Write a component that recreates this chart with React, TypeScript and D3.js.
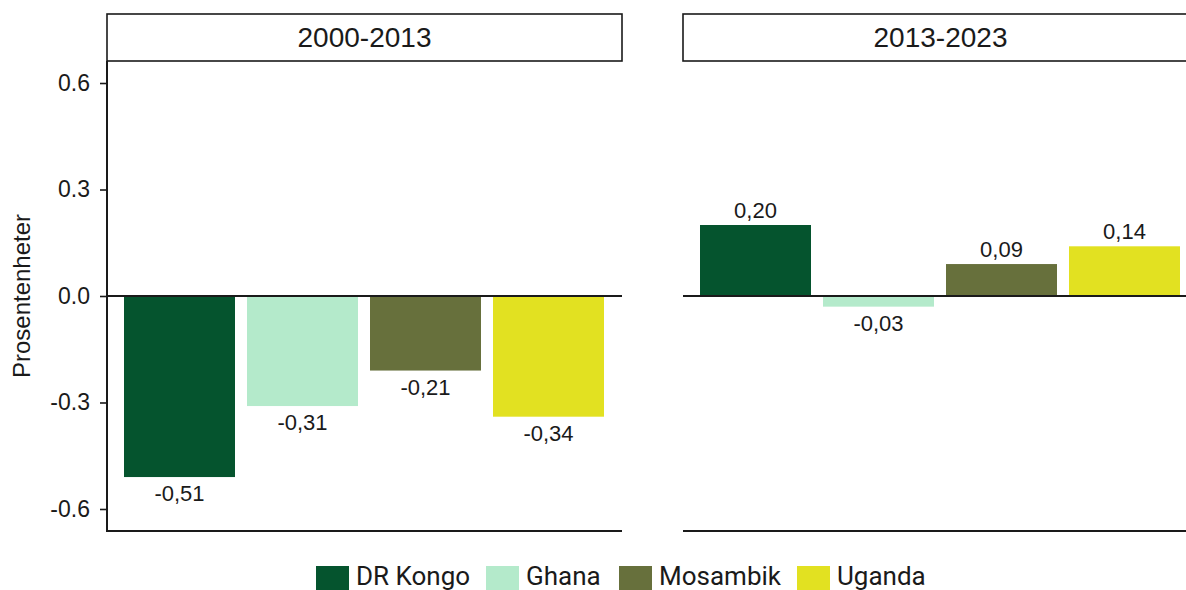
import React, { useRef, useEffect } from 'react';
import * as d3 from 'd3';

// data
const countries = ['DR Kongo', 'Ghana', 'Mosambik', 'Uganda'];
const periods = ['2000-2013', '2013-2023'];
const values2000to2013 = [-0.51, -0.31, -0.21, -0.34];
const values2013to2023 = [0.2, -0.03, 0.09, 0.14];
const yTicks = [-0.6, -0.3, 0, 0.3, 0.6];
const colors = ['#05542e', '#b4eacb', '#67703c', '#e2e121'];

export default function App() {
  const svgRef = useRef<SVGSVGElement>(null);

  useEffect(() => {
    const width = 1186;
    const height = 590;
    const font = '"Liberation Sans", Arial, sans-serif';
    const ink = '#1a1a1a';

    const panelW = 515;
    const panelLefts = [107, 683];
    const stripTop = 14;
    const panelTop = 61;
    const panelBottom = 531;

    const svg = d3.select(svgRef.current);
    svg.selectAll('*').remove();
    svg.attr('width', width).attr('height', height);

    const y = d3.scaleLinear().domain([-0.662, 0.662]).range([panelBottom, panelTop]);
    const x = d3.scaleBand<string>()
      .domain(countries)
      .range([11, 503])
      .paddingInner(0.0976)
      .paddingOuter(0.0488);

    const color = d3.scaleOrdinal<string, string>().domain(countries).range(colors);
    const fmt = (v: number) => v.toFixed(2).replace('.', ',');
    const tickFmt = (v: d3.NumberValue) => (+v).toFixed(1);

    const series = [values2000to2013, values2013to2023];

    periods.forEach((period, pi) => {
      const g = svg.append('g').attr('transform', `translate(${panelLefts[pi]},0)`);
      const rows = countries.map((c, i) => ({ country: c, value: series[pi][i] }));

      // strip
      g.append('rect')
        .attr('x', 0).attr('y', stripTop)
        .attr('width', panelW).attr('height', panelTop - stripTop)
        .attr('fill', 'white').attr('stroke', ink).attr('stroke-width', 1.6);
      g.append('text')
        .attr('x', panelW / 2).attr('y', (stripTop + panelTop) / 2)
        .attr('text-anchor', 'middle').attr('dominant-baseline', 'central')
        .attr('font-family', font).attr('font-size', 28).attr('fill', ink)
        .text(period);

      // bars
      g.selectAll('rect.bar')
        .data(rows)
        .enter()
        .append('rect')
        .attr('class', 'bar')
        .attr('x', d => x(d.country)!)
        .attr('width', x.bandwidth())
        .attr('y', d => y(Math.max(0, d.value)))
        .attr('height', d => Math.abs(y(d.value) - y(0)))
        .attr('fill', d => color(d.country));

      // value labels
      g.selectAll('text.lab')
        .data(rows)
        .enter()
        .append('text')
        .attr('class', 'lab')
        .attr('x', d => x(d.country)! + x.bandwidth() / 2)
        .attr('y', d => (d.value >= 0 ? y(d.value) - 7 : y(d.value) + 24))
        .attr('text-anchor', 'middle')
        .attr('font-family', font).attr('font-size', 22).attr('fill', ink)
        .text(d => fmt(d.value));

      // zero line
      g.append('line')
        .attr('x1', 0).attr('x2', panelW)
        .attr('y1', y(0)).attr('y2', y(0))
        .attr('stroke', ink).attr('stroke-width', 2);

      // bottom axis line
      g.append('line')
        .attr('x1', 0).attr('x2', panelW)
        .attr('y1', panelBottom).attr('y2', panelBottom)
        .attr('stroke', ink).attr('stroke-width', 2);

      if (pi === 0) {
        const axis = g.append('g')
          .call(d3.axisLeft(y).tickValues(yTicks).tickSize(7).tickPadding(10).tickFormat(tickFmt));
        axis.select('.domain').remove();
        axis.selectAll('.tick line').attr('stroke', ink).attr('stroke-width', 1.6);
        axis.selectAll('.tick text')
          .attr('fill', ink)
          .style('font-family', font)
          .style('font-size', '23px');
        g.append('line')
          .attr('x1', 0).attr('x2', 0)
          .attr('y1', panelTop).attr('y2', panelBottom + 1)
          .attr('stroke', ink).attr('stroke-width', 2);
      }
    });

    // y title
    svg.append('text')
      .attr('transform', `translate(30,${(panelTop + panelBottom) / 2}) rotate(-90)`)
      .attr('text-anchor', 'middle')
      .attr('font-family', font).attr('font-size', 24).attr('fill', ink)
      .text('Prosentenheter');

    // legend
    const keyX = [316, 486, 619, 797];
    const legend = svg.append('g');
    countries.forEach((c, i) => {
      legend.append('rect')
        .attr('x', keyX[i]).attr('y', 566)
        .attr('width', 33).attr('height', 33)
        .attr('fill', color(c));
      legend.append('text')
        .attr('x', keyX[i] + 40).attr('y', 585)
        .attr('font-family', '"Roboto", "Liberation Sans", sans-serif')
        .attr('font-size', 26).attr('fill', ink)
        .text(c);
    });
  }, []);

  return (
    <div style={{ position: 'absolute', left: 0, top: 0, width: 1186, height: 590, background: 'white' }}>
      <svg ref={svgRef} width={1186} height={590} style={{ display: 'block' }}></svg>
    </div>
  );
}
